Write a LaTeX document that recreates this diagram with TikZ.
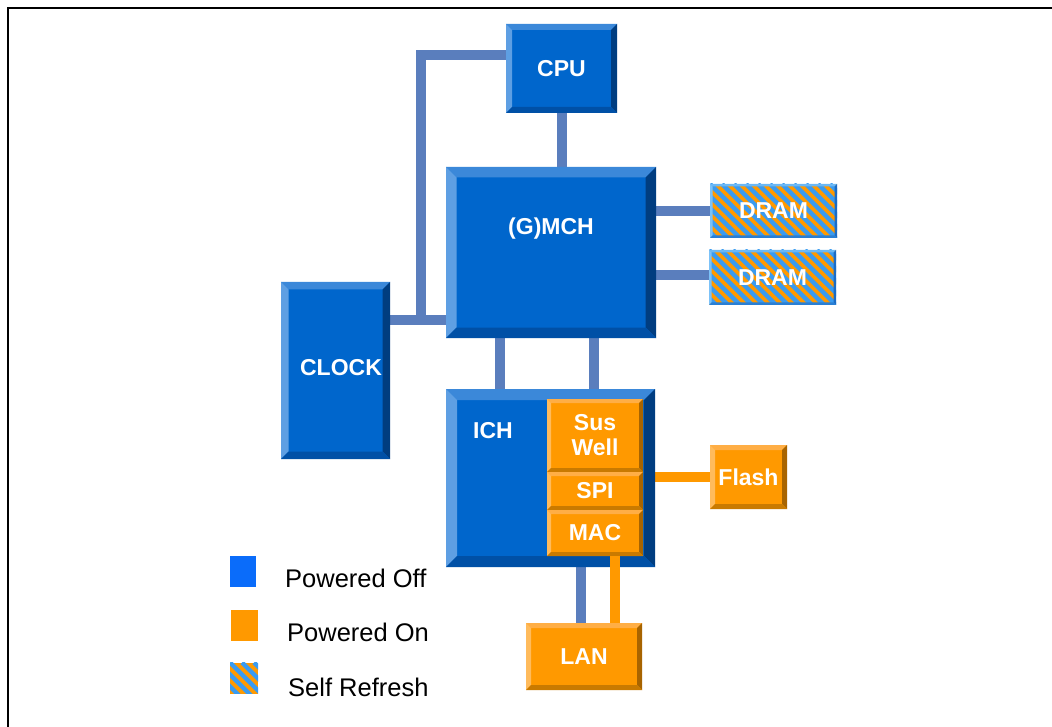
\documentclass[tikz,border=0pt]{standalone}
\usepackage{fontspec}
\setmainfont{Liberation Sans}
\usetikzlibrary{calc,backgrounds}
\definecolor{bmain}{HTML}{0066CC}
\definecolor{btop}{HTML}{3B88D9}
\definecolor{bleft}{HTML}{5E9FE3}
\definecolor{bright}{HTML}{003D80}
\definecolor{bbot}{HTML}{0050A6}
\definecolor{omain}{HTML}{FF9900}
\definecolor{otop}{HTML}{FFAE45}
\definecolor{oleft}{HTML}{FFBB5C}
\definecolor{oright}{HTML}{A86400}
\definecolor{obot}{HTML}{C97A00}
\definecolor{sblue}{HTML}{3A9BF0}
\definecolor{dtop}{HTML}{6BB8F5}
\definecolor{dleft}{HTML}{7CC2F8}
\definecolor{dright}{HTML}{1C6CC4}
\definecolor{dbot}{HTML}{2A7FD4}
\definecolor{connc}{HTML}{5A7EBD}
\definecolor{legblue}{HTML}{0A6CFA}
\newcommand\ppcorners{\path (path picture bounding box.north west) coordinate (NW)
  (path picture bounding box.north east) coordinate (NE)
  (path picture bounding box.south west) coordinate (SW)
  (path picture bounding box.south east) coordinate (SE);}
\newcommand\mybevel[5]{%
  \fill[#2] (NW) -- (NE) -- ([shift={(-#1,-#1)}]NE) -- ([shift={(#1,-#1)}]NW) -- cycle;
  \fill[#3] (NW) -- ([shift={(#1,-#1)}]NW) -- ([shift={(#1,#1)}]SW) -- (SW) -- cycle;
  \fill[#4] (NE) -- (SE) -- ([shift={(-#1,#1)}]SE) -- ([shift={(-#1,-#1)}]NE) -- cycle;
  \fill[#5] (SW) -- ([shift={(#1,#1)}]SW) -- ([shift={(-#1,#1)}]SE) -- (SE) -- cycle;}
\newcommand\mystripes{\foreach \k in {-8,...,14} \draw[sblue, line width=4.3pt] ([xshift=\k*12pt]NW) -- ++(80pt,-80pt);}
\begin{document}
\begin{tikzpicture}[x=1pt,y=-1pt,
  box/.style={rectangle, inner sep=0pt, draw=none, text=white, align=center,
    font=\fontsize{23}{25}\selectfont\bfseries},
  lbl/.style={inner sep=0pt, text=white, font=\fontsize{23}{25}\selectfont\bfseries},
  bluebox/.style={box, fill=bmain, path picture={\ppcorners\mybevel{#1}{btop}{bleft}{bright}{bbot}}},
  orangebox/.style={box, fill=omain, path picture={\ppcorners\mybevel{#1}{otop}{oleft}{oright}{obot}}},
  drambox/.style={box, fill=omain, path picture={\ppcorners\mystripes\mybevel{2.5pt}{dtop}{dleft}{dright}{dbot}}},
  legsq/.style={rectangle, inner sep=0pt, draw=none},
  stripesq/.style={fill=omain, path picture={\ppcorners\mystripes}},
  legtext/.style={inner sep=0pt, anchor=base west, font=\fontsize{25.5}{28}\selectfont},
  conn/.style={draw=connc, line width=10pt},
  oconn/.style={draw=omain, line width=10pt}]
\useasboundingbox (0,0) rectangle (1052,727);

\node[bluebox=6pt, minimum width=111pt, minimum height=89pt] (cpu) at (561.5,68.5) {CPU};
\node[bluebox=10.5pt, minimum width=210pt, minimum height=171pt] (mch) at (551,252.5) {};
\node[lbl] (mchlbl) at (551,229) {(G)MCH};
\node[drambox, minimum width=127pt, minimum height=54pt] (dram1) at (773.5,211) {DRAM};
\node[drambox, minimum width=127pt, minimum height=55pt] (dram2) at (772.5,277.5) {DRAM};
\node[bluebox=7.5pt, minimum width=109pt, minimum height=177pt] (clock) at (335.5,370.5) {};
\node[lbl] (clocklbl) at (341,368) {CLOCK};
\node[bluebox=11pt, minimum width=209pt, minimum height=178pt] (ich) at (550.5,478) {};
\node[lbl] (ichlbl) at (493,431) {ICH};
\node[orangebox=4pt, minimum width=96pt, minimum height=73pt] (sus) at (595,435.5) {Sus\\Well};
\node[orangebox=4pt, minimum width=96pt, minimum height=38pt] (spi) at (595,491) {SPI};
\node[orangebox=4pt, minimum width=96pt, minimum height=46pt] (mac) at (595,533) {MAC};
\node[orangebox=5pt, minimum width=77pt, minimum height=64pt] (flash) at (748.5,477) {Flash};
\node[orangebox=5pt, minimum width=116pt, minimum height=67pt] (lan) at (584,656.5) {LAN};

\node[legsq, fill=legblue, minimum width=26pt, minimum height=31pt] (legoff) at (242.5,571.5) {};
\node[legsq, fill=omain, minimum width=27pt, minimum height=31pt] (legon) at (244.5,625.5) {};
\node[legsq, stripesq, minimum width=28pt, minimum height=31pt] (legsr) at (244,678) {};
\node[legtext] (toff) at (285,587) {Powered Off};
\node[legtext] (ton) at (287,641) {Powered On};
\node[legtext] (tsr) at (288,696) {Self Refresh};

\begin{scope}[on background layer]
\fill[white] (0,0) rectangle (1052,727);
\draw[line width=2pt] (8,727) -- (8,8) -- (1052,8);
\coordinate (jct) at (421,320);
\draw[conn] ([yshift=13.5pt]cpu.west) -| (jct);
\draw[conn] (clock.east |- jct) -- (mch.west |- jct);
\draw[conn] (cpu.south) -- (cpu.south |- mch.north);
\draw[conn] (mch.east |- dram1.west) -- (dram1.west);
\coordinate (d2) at ([yshift=2.5pt]dram2.west);
\draw[conn] (mch.east |- d2) -- (d2);
\draw[conn] ([xshift=-51pt]mch.south) -- ([xshift=-50.5pt]ich.north);
\draw[conn] ([xshift=43pt]mch.south) -- ([xshift=43.5pt]ich.north);
\coordinate (lb) at ([xshift=-3pt]lan.north);
\draw[conn] (lb |- ich.south) -- (lb);
\draw[oconn] (spi.east |- flash.west) -- (flash.west);
\end{scope}
\coordinate (lo) at ([xshift=31pt]lan.north);
\draw[oconn] (lo |- mac.south) -- (lo);
\end{tikzpicture}
\end{document}
